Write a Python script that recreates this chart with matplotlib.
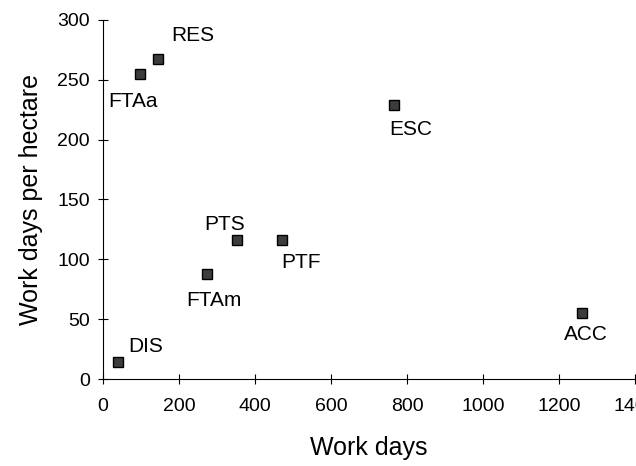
import matplotlib
matplotlib.use("Agg")
import matplotlib.pyplot as plt

plt.rcParams['font.family'] = ['Liberation Sans', 'DejaVu Sans']

# sites: total work days vs. work days per hectare
names = ["DIS", "FTAa", "RES", "FTAm", "PTS", "PTF", "ESC", "ACC"]
work_days = [40, 97, 145, 274, 353, 471, 766, 1261]
per_hectare = [14, 255, 267, 88, 116, 116, 229, 55]

# label offsets in points (dx, dy) and alignment
offsets = {
    "DIS": (7, 11, "left"),
    "FTAa": (-5, -20, "center"),
    "RES": (25, 17, "center"),
    "FTAm": (5, -19, "center"),
    "PTS": (-9, 11, "center"),
    "PTF": (14, -16, "center"),
    "ESC": (12, -18, "center"),
    "ACC": (3, -15, "center"),
}

fig = plt.figure(figsize=(6.36, 4.66), dpi=100)
ax = fig.add_axes([103 / 636, 87 / 466, 532 / 636, 359 / 466])

ax.plot(work_days, per_hectare, linestyle="none", marker="s", markersize=7,
        markerfacecolor="#3c3c3c", markeredgecolor="black", markeredgewidth=1.0)

for n, x, y in zip(names, work_days, per_hectare):
    dx, dy, ha = offsets[n]
    ax.annotate(n, (x, y), xytext=(dx, dy), textcoords="offset points",
                ha=ha, va="center", fontsize=15)

ax.set_xlim(0, 1400)
ax.set_ylim(0, 300)
ax.set_xticks(range(0, 1401, 200))
ax.set_yticks(range(0, 301, 50))
ax.spines["top"].set_visible(False)
ax.spines["right"].set_visible(False)
ax.tick_params(direction="inout", length=7, width=0.8, labelsize=14, pad=6)
ax.tick_params(axis="x", pad=10)
ax.set_xlabel("Work days", fontsize=18, labelpad=15)
ax.set_ylabel("Work days per hectare", fontsize=18, labelpad=10)

fig.savefig("out.png", dpi=100)
